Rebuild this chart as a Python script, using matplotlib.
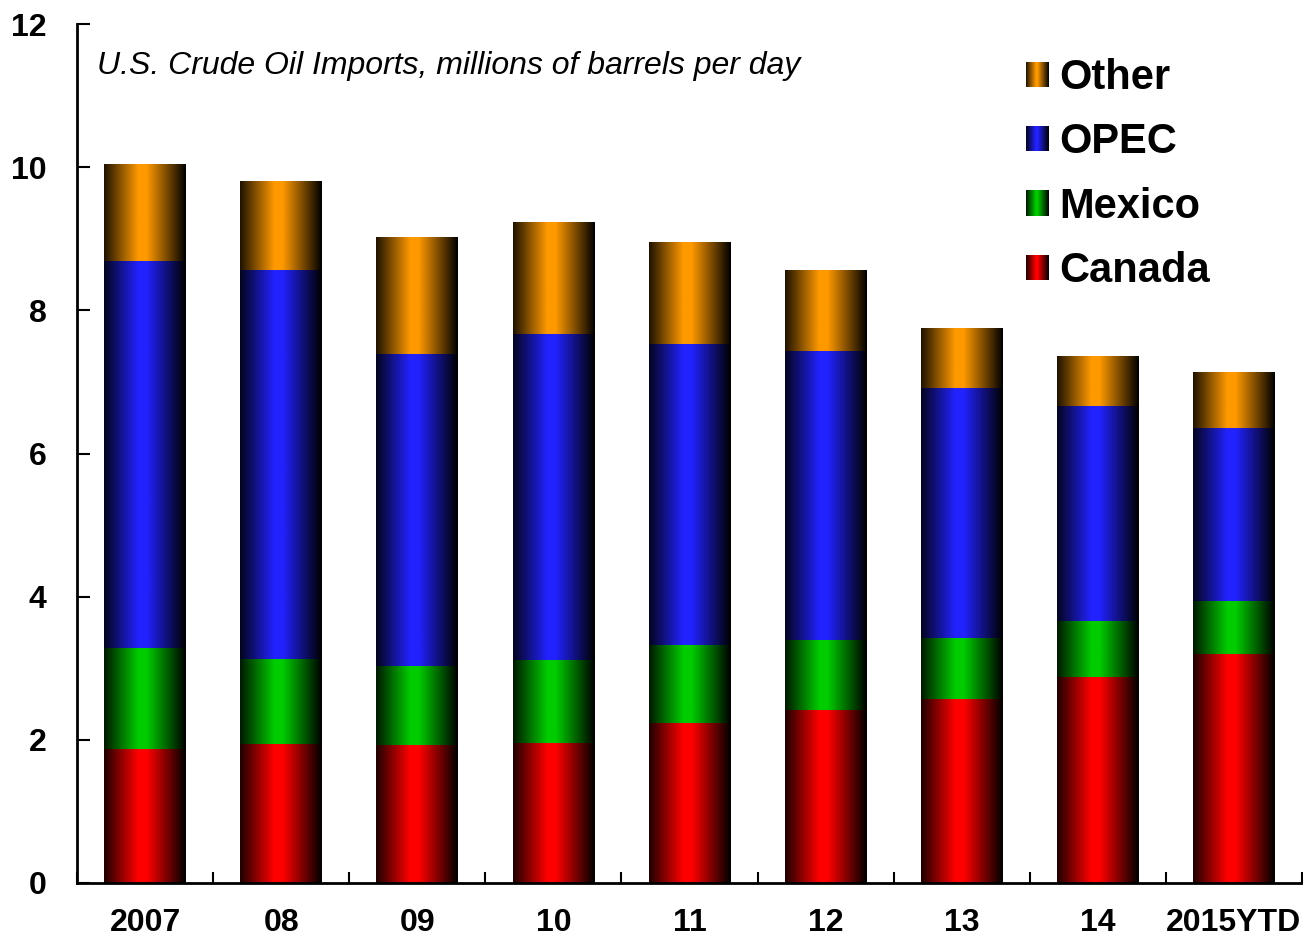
import numpy as np
import matplotlib
matplotlib.use("Agg")
import matplotlib.pyplot as plt
from matplotlib.colors import LinearSegmentedColormap, to_rgb
from matplotlib.legend_handler import HandlerBase
from matplotlib.patches import Rectangle, Patch

plt.rcParams['font.family'] = ['Liberation Sans', 'DejaVu Sans']

# data, millions of barrels per day
years = ['2007', '08', '09', '10', '11', '12', '13', '14', '2015YTD']
canada = [1.87, 1.94, 1.93, 1.96, 2.24, 2.42, 2.57, 2.88, 3.20]
mexico = [1.41, 1.19, 1.10, 1.16, 1.08, 0.97, 0.85, 0.78, 0.74]
opec = [5.41, 5.43, 4.36, 4.55, 4.21, 4.04, 3.50, 3.00, 2.42]
other = [1.35, 1.23, 1.63, 1.56, 1.42, 1.12, 0.83, 0.69, 0.78]

series = [('Canada', canada, '#ff0000'),
          ('Mexico', mexico, '#00cc00'),
          ('OPEC', opec, '#2222ff'),
          ('Other', other, '#ff9900')]


def make_cmap(color):
    c = np.array(to_rgb(color))
    return LinearSegmentedColormap.from_list(
        'g', [(0, c * 0.12), (0.42, c), (0.52, c), (1.0, (0, 0, 0))])


class GradHandler(HandlerBase):
    def __init__(self, cmap):
        super().__init__()
        self.cmap = cmap

    def create_artists(self, legend, orig, xd, yd, w, h, fontsize, trans):
        n = 24
        arts = []
        for i in range(n):
            r = Rectangle((-xd + w * i / n, -yd), w / n + 0.3, h,
                          facecolor=self.cmap((i + 0.5) / n), edgecolor='none',
                          transform=trans)
            arts.append(r)
        return arts


fig = plt.figure(figsize=(13.03, 9.36), dpi=100)
ax = fig.add_axes([77 / 1303, 53 / 936, 1225 / 1303, 859 / 936])

x = np.arange(len(years))
bottom = np.zeros(len(years))
grad = np.linspace(0, 1, 256).reshape(1, -1)
handles = {}
for name, vals, color in series:
    bars = ax.bar(x, vals, 0.6, bottom=bottom, color=color)
    cmap = make_cmap(color)
    for b in bars:
        bx, by = b.get_x(), b.get_y()
        ax.imshow(grad, cmap=cmap, aspect='auto', zorder=2,
                  extent=(bx, bx + b.get_width(), by, by + b.get_height()))
        b.set_visible(False)
    bottom += np.array(vals)
    handles[name] = (Patch(color=color), cmap)

ax.set_xlim(-0.5, len(years) - 0.5)
ax.set_ylim(0, 12)
ax.set_yticks(np.arange(0, 13, 2))
ax.set_xticks(x)
ax.set_xticklabels(years)
ax.set_xticks(np.arange(-0.5, len(years), 1), minor=True)
ax.tick_params(axis='x', which='major', length=0, pad=18, labelsize=23)
ax.tick_params(axis='x', which='minor', direction='in', length=8, width=1.5)
ax.tick_params(axis='y', direction='in', length=9, width=1.5, pad=22, labelsize=23)
for lab in ax.get_xticklabels() + ax.get_yticklabels():
    lab.set_fontweight('bold')
for s in ['top', 'right']:
    ax.spines[s].set_visible(False)
for s in ['left', 'bottom']:
    ax.spines[s].set_linewidth(2)

fig.text(97 / 1303, 1 - 66 / 936, 'U.S. Crude Oil Imports, millions of barrels per day',
         fontsize=23, style='italic', va='center', ha='left')

order = ['Other', 'OPEC', 'Mexico', 'Canada']
leg = ax.legend([handles[n][0] for n in order], order,
                handler_map={handles[n][0]: GradHandler(handles[n][1]) for n in order},
                loc='upper left', bbox_to_anchor=(1026 / 1303, 1 - 58 / 936),
                bbox_transform=fig.transFigure, frameon=False,
                prop={'size': 30, 'weight': 'bold'},
                handlelength=0.55, handleheight=0.55, handletextpad=0.25,
                labelspacing=0.585, borderpad=0, borderaxespad=0)

fig.savefig('out.png', dpi=100)
